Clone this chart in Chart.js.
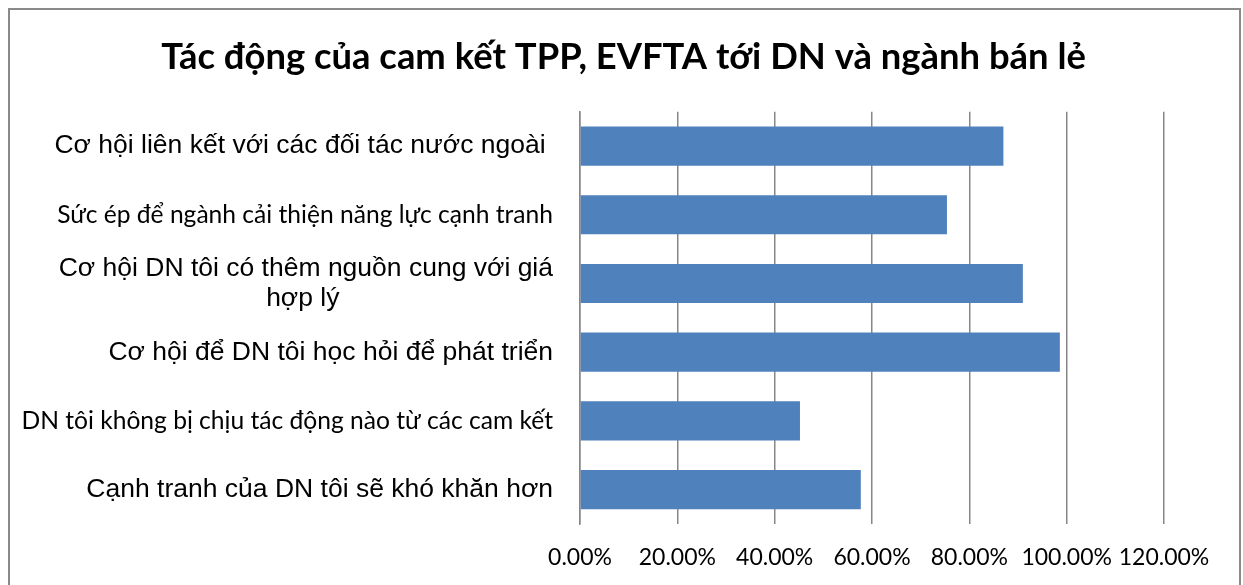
<!DOCTYPE html>
<html>
<head>
<meta charset="utf-8">
<script src="https://cdn.jsdelivr.net/npm/chart.js@4/dist/chart.umd.min.js"></script>
<style>
  body { margin: 0; background: #fff; overflow: hidden; }
  #frame { position: absolute; left: 8px; top: 8px; width: 1229px; height: 600px; border: 2px solid #8a8a8a; }
  canvas { position: absolute; left: 0; top: 0; }
</style>
</head>
<body>
<div id="frame"></div>
<canvas id="chart" width="1243" height="585"></canvas>
<script>
// categories, top to bottom
const categories = [
  'Cơ hội liên kết với các đối tác nước ngoài ',
  'Sức ép để ngành cải thiện năng lực cạnh tranh',
  ['Cơ hội DN tôi có thêm nguồn cung với giá', 'hợp lý'],
  'Cơ hội để DN tôi học hỏi để phát triển',
  'DN tôi không bị chịu tác động nào từ các cam kết',
  'Cạnh tranh của DN tôi sẽ khó khăn hơn'
];
// share of firms (fraction)
const values = [0.87, 0.754, 0.91, 0.986, 0.452, 0.577];
// x axis ticks
const tickValues = [0, 0.2, 0.4, 0.6, 0.8, 1.0, 1.2];

// labels 2 and 5 are set in the narrower font in the original
const narrowLabels = [1, 4];
const arialFont = { family: '"Liberation Sans", Arial, sans-serif', size: 26.5, lineHeight: 1.15 };
const narrowFont = { family: 'Lato, sans-serif', size: 24.6 };

// pad the short line of a wrapped label so it sits centred under the long one
const measureCtx = document.createElement('canvas').getContext('2d');
function centreLines(lines, font) {
  measureCtx.font = font.size + 'px ' + font.family;
  const widths = lines.map(l => measureCtx.measureText(l).width);
  const maxW = Math.max(...widths);
  const spaceW = measureCtx.measureText(' ').width;
  return lines.map((l, i) => l + ' '.repeat(Math.round((maxW - widths[i]) / 2 / spaceW)));
}

// centre the title on the whole frame rather than on the padded box
const titleSpan = {
  id: 'titleSpan',
  afterLayout(chart) {
    if (chart.titleBlock) {
      chart.titleBlock.left = 8;
      chart.titleBlock.right = 1239;
    }
  }
};

const canvas = document.getElementById('chart');
new Chart(canvas, {
  type: 'bar',
  data: {
    labels: categories,
    datasets: [{
      data: values,
      backgroundColor: '#4f81bd',
      barPercentage: 0.57,
      categoryPercentage: 1
    }]
  },
  options: {
    indexAxis: 'y',
    responsive: false,
    animation: false,
    layout: { padding: { left: 10, right: 79, top: 10, bottom: 14 } },
    plugins: {
      legend: { display: false },
      tooltip: { enabled: false },
      title: {
        display: true,
        text: 'Tác động của cam kết TPP, EVFTA tới DN và ngành bán lẻ',
        color: '#000',
        font: { family: 'Lato, sans-serif', size: 36.4, weight: 'bold', lineHeight: 1.2 },
        padding: { top: 25, bottom: 33 }
      }
    },
    scales: {
      x: {
        min: 0,
        max: 1.2,
        afterBuildTicks: (scale) => { scale.ticks = tickValues.map(v => ({ value: v })); },
        afterFit: (scale) => { scale.height = 47; },
        ticks: {
          color: '#000',
          padding: 20,
          maxRotation: 0,
          font: { family: 'Lato, sans-serif', size: 23 },
          callback: (v) => (v * 100).toFixed(2) + '%'
        },
        grid: { color: '#878787', lineWidth: 1.5, drawTicks: false },
        border: { display: false }
      },
      y: {
        afterFit: (scale) => { scale.width = 570; },
        ticks: {
          color: '#000',
          padding: 19,
          font: (ctx) => narrowLabels.includes(ctx.index) ? narrowFont : arialFont,
          callback: function (v, i) {
            const lab = categories[i];
            return Array.isArray(lab) ? centreLines(lab, arialFont) : lab;
          }
        },
        grid: { display: false },
        border: { display: true, color: '#878787', width: 1.5 }
      }
    }
  },
  plugins: [titleSpan]
});
</script>
</body>
</html>
